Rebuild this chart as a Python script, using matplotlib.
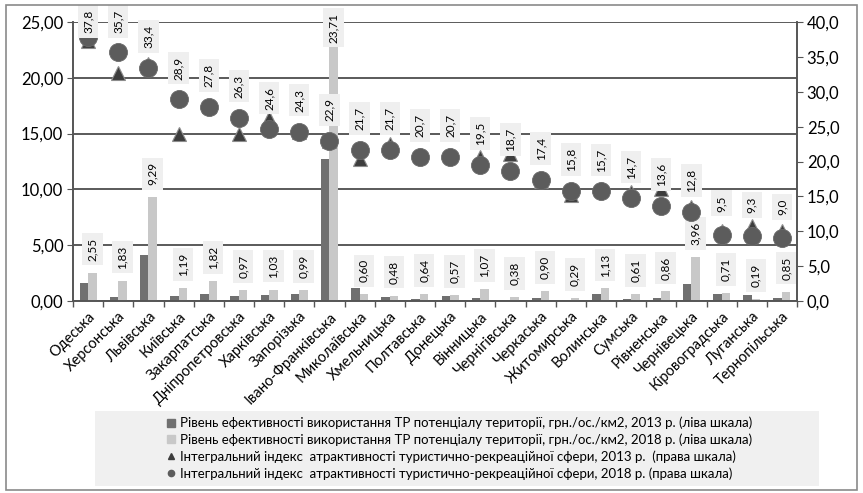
import numpy as np
import matplotlib.pyplot as plt
from matplotlib.lines import Line2D
from matplotlib.patches import Rectangle
from matplotlib.ticker import FuncFormatter

plt.rcParams['font.family'] = ['Lato', 'DejaVu Sans']

# Дані
oblasti = ['Одеська', 'Херсонська', 'Львівська', 'Київська', 'Закарпатська',
           'Дніпропетровська', 'Харківська', 'Запорізька', 'Івано-Франківська',
           'Миколаївська', 'Хмельницька', 'Полтавська', 'Донецька', 'Вінницька',
           'Чернігівська', 'Черкаська', 'Житомирська', 'Волинська', 'Сумська',
           'Рівненська', 'Чернівецька', 'Кіровоградська', 'Луганська', 'Тернопільська']
efekt_2013 = [1.59, 0.39, 4.12, 0.47, 0.63, 0.45, 0.54, 0.60, 12.70, 1.14, 0.39, 0.20,
              0.45, 0.30, 0.12, 0.30, 0.10, 0.60, 0.20, 0.30, 1.50, 0.60, 0.50, 0.30]
efekt_2018 = [2.55, 1.83, 9.29, 1.19, 1.82, 0.97, 1.03, 0.99, 23.71, 0.60, 0.48, 0.64,
              0.57, 1.07, 0.38, 0.90, 0.29, 1.13, 0.61, 0.86, 3.96, 0.71, 0.19, 0.85]
indeks_2013 = [37.3, 32.7, 34.0, 24.0, 28.0, 23.9, 26.2, 24.3, 22.9, 20.3, 22.5, 21.0,
               25.8, 20.6, 21.1, 17.2, 15.2, 16.0, 15.6, 16.1, 13.5, 10.1, 10.8, 10.0]
indeks_2018 = [37.8, 35.7, 33.4, 28.9, 27.8, 26.3, 24.6, 24.3, 22.9, 21.7, 21.7, 20.7,
               20.7, 19.5, 18.7, 17.4, 15.8, 15.7, 14.7, 13.6, 12.8, 9.5, 9.3, 9.0]

legenda = ['Рівень ефективності використання ТР потенціалу території, грн./ос./км2, 2013 р. (ліва шкала)',
           'Рівень ефективності використання ТР потенціалу території, грн./ос./км2, 2018 р. (ліва шкала)',
           'Інтегральний індекс  атрактивності туристично-рекреаційної сфери, 2013 р.  (права шкала)',
           'Інтегральний індекс  атрактивності туристично-рекреаційної сфери, 2018 р. (права шкала)']

c_temn = '#707070'
c_svitl = '#c8c8c8'
c_tryk = '#3d3d3d'
c_kolo = '#5c5c5c'
c_sitka = '#5a5a5a'
c_label = '#efefef'

x = np.arange(len(oblasti))
w = 0.28

fig = plt.figure(figsize=(8.63, 4.93), dpi=100)
# рамка навколо діаграми
fig.patches.append(Rectangle((6 / 863, 1 - 490 / 493), 851 / 863, 485 / 493,
                             transform=fig.transFigure, fill=False,
                             edgecolor='#8a8a8a', linewidth=1.2))
# фон легенди
fig.patches.append(Rectangle((95 / 863, 1 - 486 / 493), 724 / 863, 75 / 493,
                             transform=fig.transFigure, facecolor='#f0f0f0',
                             edgecolor='none'))

ax = fig.add_axes([73 / 863, 1 - 301 / 493, 724 / 863, 279 / 493])
ax2 = ax.twinx()

ax.set_ylim(0, 25)
ax2.set_ylim(0, 40)
ax.set_xlim(-0.5, len(oblasti) - 0.5)

ax.set_yticks(np.arange(0, 25.1, 5))
ax2.set_yticks(np.arange(0, 40.1, 5))
ax.yaxis.set_major_formatter(FuncFormatter(lambda v, p: f'{v:.2f}'.replace('.', ',')))
ax2.yaxis.set_major_formatter(FuncFormatter(lambda v, p: f'{v:.1f}'.replace('.', ',')))
ax.grid(axis='y', color=c_sitka, linewidth=1.4)
ax.set_axisbelow(True)

ax.bar(x - w / 2, efekt_2013, w, color=c_temn, zorder=2)
ax.bar(x + w / 2, efekt_2018, w, color=c_svitl, zorder=2)

ax2.plot(x, indeks_2013, linestyle='none', marker='^', markersize=10,
         color=c_tryk, markeredgecolor='#8c8c8c', markeredgewidth=0.8, zorder=3)
ax2.plot(x, indeks_2018, linestyle='none', marker='o', markersize=13,
         color=c_kolo, markeredgecolor='#6a6a6a', markeredgewidth=0.6, zorder=4)

bbox = dict(boxstyle='square,pad=0.4', fc=c_label, ec='none')
for xi, v in zip(x, efekt_2018):
    ax.text(xi + w / 2, min(v + 2.1, 24.5), f'{v:.2f}'.replace('.', ','),
            rotation=90, ha='center', va='center', fontsize=8.5,
            bbox=bbox, zorder=5, clip_on=False)
for xi, v in zip(x, indeks_2018):
    ax2.text(xi, min(v + 4.5, 40.1), f'{v:.1f}'.replace('.', ','),
             rotation=90, ha='center', va='center', fontsize=8.5,
             bbox=bbox, zorder=5, clip_on=False)

# осі
ax.set_xticks(x)
ax.set_xticklabels(oblasti, rotation=45, ha='right', rotation_mode='anchor', fontsize=10.5)
ax.set_xticks(np.arange(-0.5, len(oblasti), 1), minor=True)
ax.tick_params(axis='x', which='major', length=0, pad=6)
ax.tick_params(axis='x', which='minor', length=4, color='#555555', width=1)
ax.tick_params(axis='y', length=4, color='#555555', labelsize=12, pad=3)
ax2.tick_params(axis='y', length=4, color='#555555', labelsize=12, pad=3)
for a in (ax, ax2):
    a.spines['top'].set_visible(False)
    for s in ('left', 'right', 'bottom'):
        a.spines[s].set_color('#555555')
        a.spines[s].set_linewidth(1.2)

handles = [Line2D([], [], linestyle='none', marker='s', markersize=5.5, color=c_temn),
           Line2D([], [], linestyle='none', marker='s', markersize=5.5, color=c_svitl),
           Line2D([], [], linestyle='none', marker='^', markersize=4, color=c_tryk),
           Line2D([], [], linestyle='none', marker='o', markersize=4.5, color=c_kolo)]
fig.legend(handles, legenda, loc='upper left', bbox_to_anchor=(160 / 863, 1 - 410 / 493),
           frameon=False, fontsize=9.5, handlelength=0.7, handletextpad=0.3,
           labelspacing=0.33, borderpad=0)

fig.savefig('out.png', dpi=100)
